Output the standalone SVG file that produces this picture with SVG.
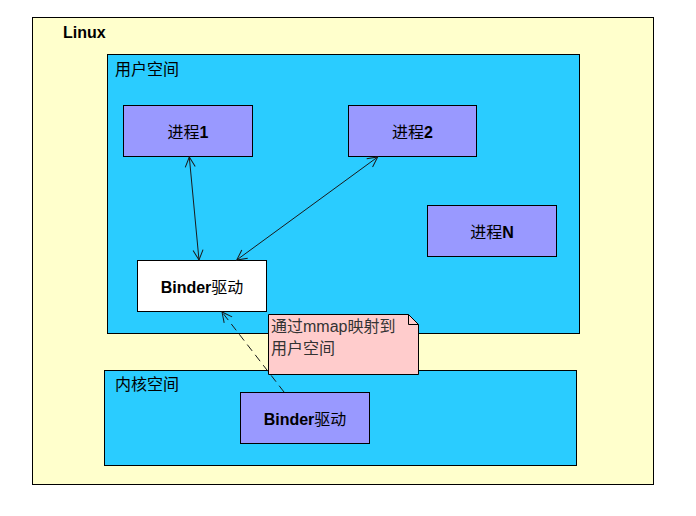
<svg xmlns="http://www.w3.org/2000/svg" width="696" height="516" viewBox="0 0 696 516">
<defs>
<marker id="open" viewBox="0 0 12 12" refX="11" refY="6" markerWidth="12" markerHeight="12" markerUnits="userSpaceOnUse" orient="auto-start-reverse">
<path d="M1,1 L11,6 L1,11" fill="none" stroke="#1a1a1a" stroke-width="1"/>
</marker>
</defs>
<style>
.box{stroke:#000;stroke-width:1}
.proc{fill:#9999FF}
.lbl{font-family:"Liberation Sans","Noto Sans CJK SC",sans-serif;font-size:16px;font-weight:bold;fill:#000;text-anchor:middle}
.cj{font-weight:normal}
.area{font-family:"Liberation Sans","Noto Sans CJK SC",sans-serif;font-size:16px;fill:#000}
.note{font-family:"Liberation Sans","Noto Sans CJK SC",sans-serif;font-size:16px;fill:#333}
.conn{stroke:#1a1a1a;stroke-width:1;fill:none}
</style>
<rect width="696" height="516" fill="#fff"/>
<g id="linux">
<rect class="box" x="32.5" y="17.5" width="621" height="467" fill="#FFFFCC"/>
<text class="area" x="63" y="38" font-weight="bold">Linux</text>
</g>
<g id="userspace">
<rect class="box" x="107.5" y="54.5" width="472" height="279" fill="#2ACCFF"/>
<text class="area" x="115" y="75">用户空间</text>
</g>
<g id="kernelspace">
<rect class="box" x="104.5" y="370.5" width="472" height="95" fill="#2ACCFF"/>
<text class="area" x="115" y="390">内核空间</text>
</g>
<g id="proc1">
<rect class="box proc" x="123.5" y="105.5" width="129" height="51"/>
<text class="lbl" x="188" y="138"><tspan class="cj">进程</tspan>1</text>
</g>
<g id="proc2">
<rect class="box proc" x="348.5" y="105.5" width="128" height="51"/>
<text class="lbl" x="412.5" y="138"><tspan class="cj">进程</tspan>2</text>
</g>
<g id="procN">
<rect class="box proc" x="427.5" y="205.5" width="129" height="51"/>
<text class="lbl" x="492" y="238"><tspan class="cj">进程</tspan>N</text>
</g>
<g id="binderUser">
<rect class="box" x="137.5" y="260.5" width="129" height="51" fill="#fff"/>
<text class="lbl" x="202" y="293">Binder<tspan class="cj">驱动</tspan></text>
</g>
<g id="binderKernel">
<rect class="box proc" x="240.5" y="392.5" width="129" height="51"/>
<text class="lbl" x="305" y="425">Binder<tspan class="cj">驱动</tspan></text>
</g>
<g id="connectors">
<line class="conn" x1="189.3" y1="157" x2="199" y2="260" marker-start="url(#open)" marker-end="url(#open)"/>
<line class="conn" x1="377.7" y1="157" x2="236.7" y2="260" marker-start="url(#open)" marker-end="url(#open)"/>
<line class="conn" x1="284" y1="392" x2="222" y2="312" stroke-dasharray="8,5" marker-end="url(#open)"/>
</g>
<g id="note">
<path class="box" d="M268.5,314.5 H408.5 L418.5,324.5 V374.5 H268.5 Z" fill="#FFCCCC"/>
<path d="M408.5,314.5 V324.5 H418.5" fill="none" stroke="#000" stroke-width="1"/>
<text class="note" x="271" y="332">通过mmap映射到</text>
<text class="note" x="271" y="354">用户空间</text>
</g>
</svg>
